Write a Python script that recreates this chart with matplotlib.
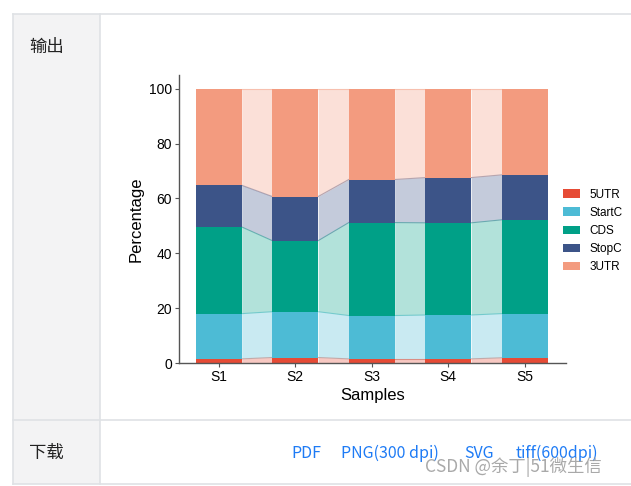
import matplotlib.pyplot as plt
import numpy as np
from matplotlib.patches import Patch, Rectangle
from matplotlib.lines import Line2D

# =========================
# Data (percentages per sample)
# =========================
samples = ["S1", "S2", "S3", "S4", "S5"]
regions = ["5UTR", "StartC", "CDS", "StopC", "3UTR"]
utr5 = [1.5, 2.0, 1.5, 1.5, 1.9]
startc = [16.5, 16.7, 15.8, 16.0, 16.1]
cds = [31.6, 25.9, 33.9, 33.6, 34.2]
stopc = [15.2, 16.1, 15.7, 16.5, 16.4]
utr3 = [35.2, 39.3, 33.1, 32.4, 31.4]
colors = ["#E64B35", "#4DBBD5", "#00A087", "#3C5488", "#F39B7F"]

page_links = ["PDF", "PNG(300 dpi)", "SVG", "tiff(600dpi)"]

# =========================
# Figure / page frame
# =========================
W, H = 631, 486
fig = plt.figure(figsize=(W / 100, H / 100), dpi=100)
cjk = ["Noto Sans CJK SC", "DejaVu Sans"]


def px(x, y):
    return x / W, 1 - y / H


border = "#dfe2e5"
x0, x1, xc = 13, W, 100
y0, yr, y1 = 14, 420, 484
fig.patches.append(Rectangle(px(x0, y1), (xc - x0) / W, (y1 - y0) / H,
                             transform=fig.transFigure, facecolor="#f3f3f4",
                             edgecolor="none", zorder=0))
for (xa, ya), (xb, yb) in [((x0, y0), (x1, y0)), ((x0, yr), (x1, yr)),
                           ((x0, y1), (x1, y1)), ((x0, y0), (x0, y1)),
                           ((xc, y0), (xc, y1))]:
    (fa, ga), (fb, gb) = px(xa, ya), px(xb, yb)
    fig.add_artist(Line2D([fa, fb], [ga, gb], transform=fig.transFigure,
                          color=border, lw=1.2))

fig.text(*px(29, 47), "输出", family=cjk, fontsize=12.5, va="center", color="#222222")
fig.text(*px(29, 453), "下载", family=cjk, fontsize=12.5, va="center", color="#222222")

link_x = [291, 341, 464, 516]
for lx, t in zip(link_x, page_links):
    fig.text(*px(lx, 453), t, family=cjk, fontsize=11.5, va="center", color="#1e7bf5")
fig.text(*px(425, 467), "CSDN @余丁|51微生信", family=cjk, fontsize=12.5,
         va="center", color="#9a9a9a", alpha=0.85)

# =========================
# Stacked bar chart
# =========================
ax = fig.add_axes([179 / W, (H - 363) / H, (566 - 179) / W, (363 - 75) / H])
data = np.array([utr5, startc, cds, stopc, utr3])
cum = np.vstack([np.zeros(len(samples)), np.cumsum(data, axis=0)])
xs = np.arange(len(samples))
bw = 0.6

for k in range(len(regions)):
    ax.bar(xs, data[k], bottom=cum[k], width=bw, color=colors[k], label=regions[k],
           linewidth=0, zorder=2)
    for i in range(len(samples) - 1):
        xa, xb = xs[i] + bw / 2, xs[i + 1] - bw / 2
        ax.fill_between([xa, xb], [cum[k][i], cum[k][i + 1]],
                        [cum[k + 1][i], cum[k + 1][i + 1]],
                        color=colors[k], alpha=0.3, linewidth=0, zorder=1)
        ax.plot([xa, xb], [cum[k + 1][i], cum[k + 1][i + 1]], color=colors[k],
                alpha=0.5, lw=0.8, zorder=1)

ax.set_xlim(-0.52, 4.54)
ax.set_ylim(0, 105)
ax.set_xticks(xs)
ax.set_xticklabels(samples)
ax.set_yticks([0, 20, 40, 60, 80, 100])
for s in ["top", "right"]:
    ax.spines[s].set_visible(False)
for s in ["left", "bottom"]:
    ax.spines[s].set_color("#555555")
    ax.spines[s].set_linewidth(1.0)
ax.tick_params(length=3, color="#555555", labelsize=10, pad=2)
for lab in ax.get_xticklabels() + ax.get_yticklabels():
    lab.set_family("Liberation Sans")
ax.set_xlabel("Samples", family="Liberation Sans", fontsize=12, labelpad=3)
ax.set_ylabel("Percentage", family="Liberation Sans", fontsize=12, labelpad=4)

handles = [Patch(facecolor=c, edgecolor="none") for c in colors]
fig.legend(handles, regions, loc="center left", bbox_to_anchor=px(552, 231),
           frameon=False, prop={"family": "Liberation Sans", "size": 8.5},
           handlelength=1.5, handleheight=0.75, handletextpad=0.8, labelspacing=0.52)

fig.savefig("out.png", dpi=100)
